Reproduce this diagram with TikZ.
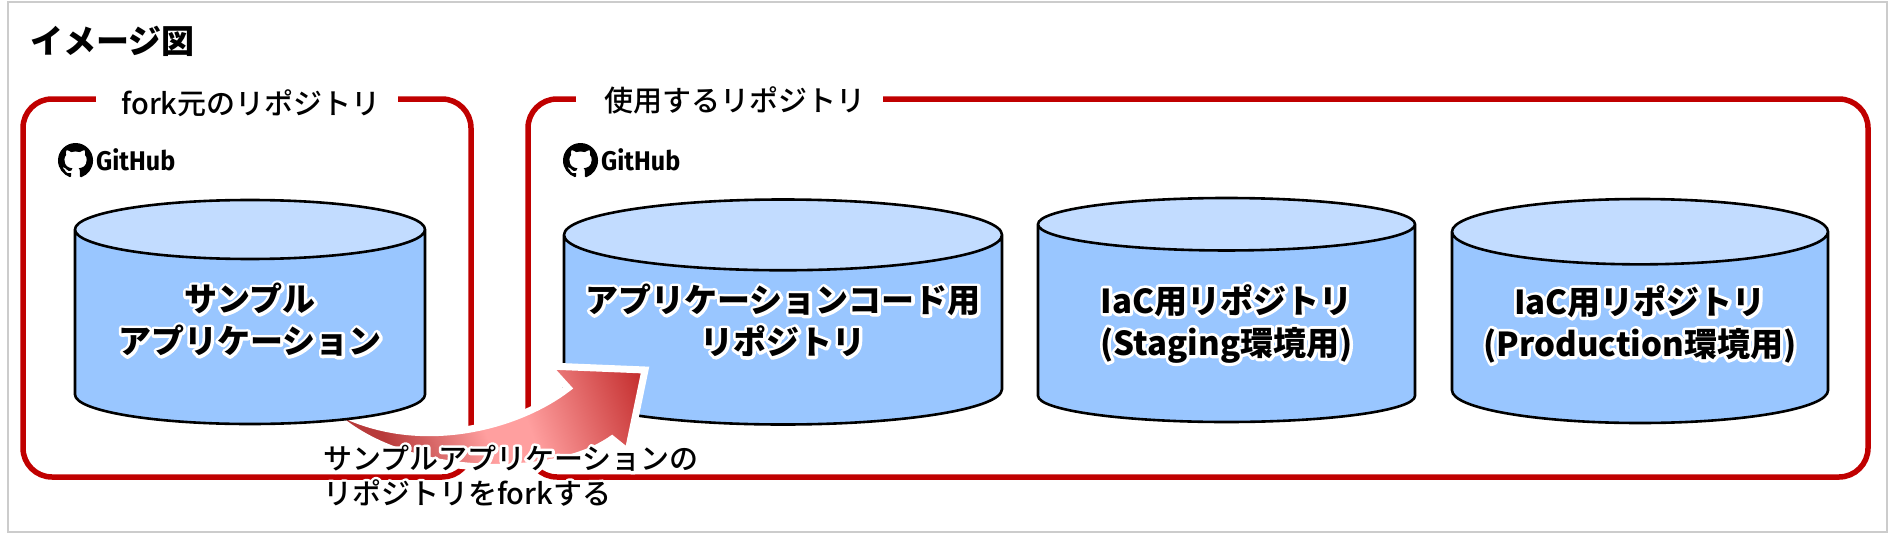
\documentclass[tikz,border=0pt]{standalone}
\usepackage{fontspec}
\setmainfont{Noto Sans CJK JP}
\newfontface\mediumface{Noto Sans CJK JP Medium}
\newfontface\hubface{Fira Sans Bold}[FakeStretch=0.93]
\usetikzlibrary{shapes.geometric}
\usetikzlibrary{svg.path}

\definecolor{framered}{HTML}{C00000}
\definecolor{bodyblue}{HTML}{99C6FF}
\definecolor{endblue}{HTML}{C2DCFF}
\definecolor{bordergray}{HTML}{CCCCCC}
\definecolor{darkend}{HTML}{B83A3A}
\definecolor{pinkmid}{HTML}{FF9F9F}
\definecolor{darkhead}{HTML}{BC1F1F}

\pgfdeclarehorizontalshading{forkshade}{100bp}{color(0bp)=(darkend); color(32bp)=(darkend); color(50bp)=(pinkmid); color(58bp)=(pinkmid); color(84bp)=(darkhead); color(100bp)=(darkhead)}

% white outline under the black letters
\newcommand{\glowline}[1]{\mbox{\rlap{\special{pdf:bcontent}\special{pdf:code 1 1 1 RG 1 1 1 rg 6 w 1 j 2 Tr}#1\special{pdf:econtent}}#1}}

\tikzset{
  repoframe/.style={rectangle, draw=framered, line width=5.5pt, rounded corners=29pt},
  frametitle/.style={fill=white, inner sep=0pt, minimum height=30pt, font=\fontsize{29}{34}\selectfont\mediumface},
  repocyl/.style={cylinder, anchor=shape center, shape border rotate=90, draw=black, line width=2.6pt, cylinder uses custom fill,
    cylinder body fill=bodyblue, cylinder end fill=endblue, align=center, inner sep=0pt,
    font=\fontsize{33}{42}\selectfont\bfseries},
  gitmark/.style={fill=black, draw=none},
  hubtext/.style={inner sep=0pt, anchor=west, font=\fontsize{27}{27}\selectfont\hubface},
  forkarrow/.style={draw=white, line width=7pt, line join=miter, shading=forkshade, shading angle=20}
}

\newcommand{\octomark}{svg {M8 0 C3.58 0 0 3.58 0 8 c0 3.54 2.29 6.53 5.47 7.59 .4 .07 .55 -.17 .55 -.38 0 -.19 -.01 -.82 -.01 -1.49 -2.01 .37 -2.53 -.49 -2.69 -.94 -.09 -.23 -.48 -.94 -.82 -1.13 -.28 -.15 -.68 -.52 -.01 -.53 .63 -.01 1.08 .58 1.23 .82 .72 1.21 1.87 .87 2.33 .66 .07 -.52 .28 -.87 .51 -1.07 -1.78 -.2 -3.64 -.89 -3.64 -3.95 0 -.87 .31 -1.59 .82 -2.15 -.08 -.2 -.36 -1.02 .08 -2.12 0 0 .67 -.21 2.2 .82 .64 -.18 1.32 -.27 2 -.27 .68 0 1.36 .09 2 .27 1.53 -1.04 2.2 -.82 2.2 -.82 .44 1.1 .16 1.92 .08 2.12 .51 .56 .82 1.27 .82 2.15 0 3.07 -1.87 3.75 -3.65 3.95 .29 .25 .54 .73 .54 1.48 0 1.07 -.01 1.93 -.01 2.27 0 .21 .15 .46 .55 .38 C13.71 14.53 16 11.53 16 8 c0 -4.42 -3.58 -8 -8 -8 z}}

\begin{document}
\begin{tikzpicture}[x=1pt, y=-1pt]
\useasboundingbox (0,0) rectangle (1889,541);
\node [rectangle, draw=bordergray, line width=2pt, minimum width=1879pt, minimum height=530pt, inner sep=0pt] (outer) at (947.5,267) {};
\node [inner sep=0pt, anchor=west, font=\fontsize{33}{38}\selectfont\bfseries] (title) at (30,41) {イメージ図};

\node [repoframe, minimum width=448pt, minimum height=378pt] (forkframe) at (247,288) {};
\node [repoframe, minimum width=1340pt, minimum height=378pt] (useframe) at (1198,288) {};
\node [frametitle, minimum width=302pt] (forktitle) at (247,103) {\hspace*{8pt}fork元のリポジトリ};
\node [frametitle, minimum width=307pt] (usetitle) at (729.5,100) {\hspace*{10pt}使用するリポジトリ};

\begin{scope}[shift={(58,143)}, xscale=2.19, yscale=-2.19]
\path [gitmark] \octomark;
\end{scope}
\begin{scope}[shift={(563,143)}, xscale=2.19, yscale=-2.19]
\path [gitmark] \octomark;
\end{scope}
\node [hubtext] (hub1) at (96,160) {GitHub};
\node [hubtext] (hub2) at (601,160) {GitHub};

\node [repocyl, minimum width=438pt, minimum height=225pt, aspect=0.179, text depth=22pt] (apprepo) at (783,312) {\glowline{アプリケーションコード用}\\\glowline{リポジトリ}};
\node [repocyl, minimum width=377pt, minimum height=224pt, aspect=0.208] (stagingrepo) at (1226.5,310) {\glowline{IaC用リポジトリ}\\\glowline{(Staging環境用)}};
\node [repocyl, minimum width=376pt, minimum height=224pt, aspect=0.209, text depth=14pt] (prodrepo) at (1640,311) {\glowline{IaC用リポジトリ}\\\glowline{(Production環境用)}};

\path [forkarrow] (320,400) .. controls (385,480) and (550,483) .. (612,439) -- (628,452) -- (645,370) -- (548,366) -- (568,388) .. controls (520,425) and (430,450) .. (352,418) -- cycle;

\node [repocyl, minimum width=350pt, minimum height=224pt, aspect=0.224, text depth=18pt] (samplerepo) at (250,312) {\glowline{サンプル}\\\glowline{アプリケーション}};

\node [inner sep=0pt, anchor=north west, align=left, font=\fontsize{29}{35}\selectfont\mediumface] (forklabel) at (323,445) {\glowline{サンプルアプリケーションの}\\\glowline{リポジトリをforkする}};
\end{tikzpicture}
\end{document}
